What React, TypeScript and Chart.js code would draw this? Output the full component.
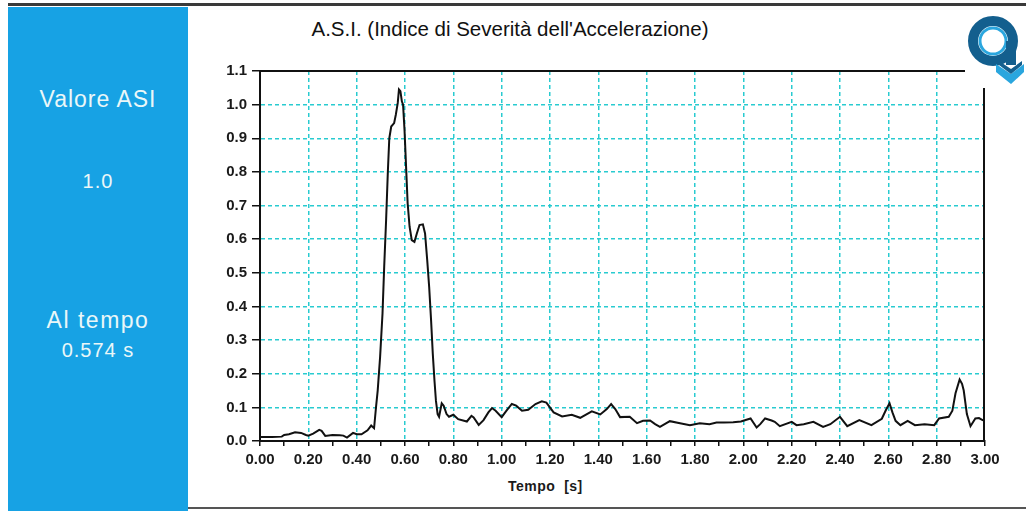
import { useEffect, useRef } from 'react';
import { Chart, registerables } from 'chart.js';

Chart.register(...registerables);

// Time axis (s)
const TIME = [
  0.0, 0.05, 0.09, 0.1, 0.12, 0.145, 0.17, 0.19, 0.2, 0.22, 0.245, 0.255, 0.27, 0.3, 0.33, 0.345, 0.36, 0.385, 0.4, 0.42,
  0.445, 0.46, 0.472, 0.48, 0.487, 0.497, 0.507, 0.514, 0.522, 0.529, 0.535, 0.543, 0.555, 0.562, 0.57, 0.575, 0.581,
  0.587, 0.592, 0.598, 0.605, 0.611, 0.619, 0.628, 0.639, 0.649, 0.66, 0.674, 0.683, 0.692, 0.7, 0.708, 0.715, 0.722,
  0.728, 0.735, 0.741, 0.752, 0.76, 0.772, 0.782, 0.8, 0.82, 0.856, 0.875, 0.884, 0.905, 0.925, 0.945, 0.96, 0.975, 1.0,
  1.02, 1.042, 1.06, 1.084, 1.11, 1.14, 1.166, 1.185, 1.215, 1.25, 1.29, 1.325, 1.373, 1.408, 1.435, 1.453, 1.47, 1.49,
  1.53, 1.56, 1.585, 1.614, 1.635, 1.655, 1.696, 1.738, 1.779, 1.82, 1.86, 1.889, 1.92, 1.958, 1.99, 2.03, 2.055, 2.07,
  2.09, 2.117, 2.13, 2.151, 2.2, 2.22, 2.25, 2.29, 2.33, 2.36, 2.4, 2.43, 2.48, 2.53, 2.573, 2.59, 2.605, 2.617, 2.63,
  2.65, 2.68, 2.71, 2.75, 2.79, 2.81, 2.85, 2.865, 2.878, 2.895, 2.905, 2.912, 2.925, 2.94, 2.96, 2.975, 2.99, 3.0,
];

// A.S.I. value
const ASI = [
  0.012, 0.012, 0.013, 0.018, 0.02, 0.026, 0.024, 0.018, 0.016, 0.022, 0.033, 0.03, 0.015, 0.018, 0.017, 0.016, 0.01,
  0.024, 0.02, 0.02, 0.032, 0.046, 0.038, 0.1, 0.15, 0.25, 0.38, 0.52, 0.66, 0.8, 0.9, 0.935, 0.945, 0.97, 1.005, 1.045,
  1.04, 1.01, 1.0, 0.925, 0.806, 0.706, 0.637, 0.597, 0.592, 0.617, 0.642, 0.644, 0.617, 0.537, 0.458, 0.358, 0.259,
  0.179, 0.12, 0.08, 0.072, 0.112, 0.105, 0.08, 0.072, 0.078, 0.065, 0.058, 0.075, 0.07, 0.048, 0.062, 0.085, 0.098,
  0.09, 0.071, 0.09, 0.11, 0.105, 0.09, 0.093, 0.11, 0.118, 0.114, 0.085, 0.073, 0.078, 0.069, 0.088, 0.079, 0.095, 0.11,
  0.095, 0.071, 0.072, 0.053, 0.06, 0.061, 0.05, 0.042, 0.059, 0.053, 0.047, 0.053, 0.05, 0.055, 0.055, 0.056, 0.058,
  0.067, 0.04, 0.05, 0.067, 0.061, 0.057, 0.044, 0.057, 0.047, 0.05, 0.057, 0.042, 0.05, 0.072, 0.044, 0.062, 0.047,
  0.066, 0.092, 0.112, 0.085, 0.06, 0.047, 0.06, 0.047, 0.05, 0.047, 0.067, 0.072, 0.09, 0.142, 0.183, 0.17, 0.15, 0.08,
  0.044, 0.067, 0.068, 0.062, 0.06,
];

const X_MIN = 0;
const X_MAX = 3;
const X_STEP = 0.1;
const Y_MIN = 0;
const Y_MAX = 1.1;
const Y_STEP = 0.1;

const TITLE = "A.S.I. (Indice di Severità dell'Accelerazione)";
const X_TITLE = 'Tempo  [s]';
const PANEL_LABEL = 'Valore ASI';
const PANEL_VALUE = '1.0';
const PANEL_TIME_LABEL = 'Al tempo';
const PANEL_TIME_VALUE = '0.574 s';

const FONT = "'Liberation Sans', Arial, Helvetica, sans-serif";
const GRID = 'rgba(30,200,205,0.95)';

const framePlugin = {
  id: 'frame',
  afterDraw(chart: any) {
    const { ctx, chartArea: a, scales } = chart;
    const yTop = scales.y.getPixelForValue(Y_MAX);
    ctx.save();
    ctx.strokeStyle = '#111';
    ctx.lineWidth = 2;
    ctx.beginPath();
    ctx.moveTo(a.left, yTop);
    ctx.lineTo(a.right - 20, yTop);
    ctx.stroke();
    ctx.beginPath();
    ctx.moveTo(a.right - 1, a.top + 17);
    ctx.lineTo(a.right - 1, a.bottom);
    ctx.stroke();
    ctx.restore();
  },
};

function Logo() {
  return (
    <svg width="60" height="72" viewBox="0 0 60 72" style={{ position: 'absolute', left: 966, top: 14 }}>
      <circle cx="27" cy="27" r="20" fill="none" stroke="#135f8e" strokeWidth="10" />
      <circle cx="27" cy="27" r="13" fill="none" stroke="#2aa6de" strokeWidth="3" />
      <rect x="40" y="27" width="10" height="24" fill="#135f8e" />
      <polygon points="30,50 45,60 58,50 58,58 45,70 30,58" fill="#2aa6de" />
      <polygon points="33,47 45,55 56,47 56,51 45,60 33,51" fill="#135f8e" />
    </svg>
  );
}

export default function App() {
  const canvasRef = useRef<HTMLCanvasElement | null>(null);

  useEffect(() => {
    if (!canvasRef.current) return;
    const points = TIME.map((t, i) => ({ x: t, y: ASI[i] }));
    const chart = new Chart(canvasRef.current, {
      type: 'line',
      data: {
        datasets: [
          {
            label: 'ASI',
            data: points,
            borderColor: '#111',
            borderWidth: 2,
            pointRadius: 0,
            tension: 0,
            fill: false,
          },
        ],
      },
      plugins: [framePlugin],
      options: {
        animation: false,
        responsive: false,
        devicePixelRatio: 1,
        layout: { padding: { left: 0, top: 71, right: 41, bottom: 0 } },
        plugins: { legend: { display: false }, tooltip: { enabled: false }, title: { display: false } },
        scales: {
          x: {
            type: 'linear',
            min: X_MIN,
            max: X_MAX,
            afterFit: (s: any) => {
              s.height = 70;
            },
            ticks: {
              stepSize: X_STEP,
              autoSkip: false,
              maxRotation: 0,
              padding: 5,
              color: '#1a1a1a',
              font: { family: FONT, size: 15, weight: 'bold' },
              callback: (v: any) => (Math.round(Number(v) * 10) % 2 === 0 ? Number(v).toFixed(2) : ''),
            },
            grid: {
              color: (c: any) => {
                const k = Math.round(c.tick?.value * 10);
                return k % 2 === 0 && k > 0 && k < 30 ? GRID : 'rgba(0,0,0,0)';
              },
              lineWidth: 1.5,
              tickLength: 5,
              tickColor: '#111',
              tickWidth: 1.5,
            },
            border: { display: true, color: '#111', width: 2, dash: [4, 3] },
          },
          y: {
            type: 'linear',
            min: Y_MIN,
            max: Y_MAX,
            afterFit: (s: any) => {
              s.width = 260;
            },
            ticks: {
              stepSize: Y_STEP,
              padding: 5,
              color: '#1a1a1a',
              font: { family: FONT, size: 15, weight: 'bold' },
              callback: (v: any) => Number(v).toFixed(1),
            },
            grid: {
              color: (c: any) => {
                const k = Math.round(c.tick?.value * 10);
                return k > 0 && k < 11 ? GRID : 'rgba(0,0,0,0)';
              },
              lineWidth: 1.5,
              tickLength: 8,
              tickColor: '#111',
              tickWidth: 1.5,
            },
            border: { display: true, color: '#111', width: 2, dash: [4, 3] },
          },
        },
      },
    } as any);
    return () => chart.destroy();
  }, []);

  const panelText = (top: number, size: number, text: string, ls: number) => (
    <div
      style={{
        position: 'absolute',
        left: 8,
        width: 180,
        top,
        textAlign: 'center',
        fontFamily: FONT,
        fontSize: size,
        lineHeight: `${size}px`,
        letterSpacing: ls,
        color: '#eaf7f8',
        whiteSpace: 'pre',
      }}
    >
      {text}
    </div>
  );

  return (
    <div
      style={{
        position: 'fixed',
        left: 0,
        top: 0,
        width: 1026,
        height: 511,
        background: '#ffffff',
        overflow: 'hidden',
      }}
    >
      <div style={{ position: 'absolute', left: 8, top: 3, width: 1018, height: 3, background: '#3a3a3a' }} />
      <div style={{ position: 'absolute', left: 8, top: 7, width: 180, height: 504, background: '#17a2e4' }} />
      {panelText(88, 23, PANEL_LABEL, 1)}
      {panelText(171, 20, PANEL_VALUE, 1)}
      {panelText(309, 23, PANEL_TIME_LABEL, 1.5)}
      {panelText(340, 20, PANEL_TIME_VALUE, 1)}
      <div style={{ position: 'absolute', left: 188, top: 507, width: 838, height: 2, background: '#555' }} />
      <div
        style={{
          position: 'absolute',
          left: 210,
          width: 600,
          top: 19,
          textAlign: 'center',
          fontFamily: FONT,
          fontSize: 20.5,
          lineHeight: '20.5px',
          color: '#111',
          whiteSpace: 'pre',
        }}
      >
        {TITLE}
      </div>
      <div
        style={{
          position: 'absolute',
          left: 508,
          top: 479,
          fontFamily: FONT,
          fontSize: 14,
          fontWeight: 'bold',
          lineHeight: '14px',
          letterSpacing: 0.5,
          color: '#1a1a1a',
          whiteSpace: 'pre',
        }}
      >
        {X_TITLE}
      </div>
      <Logo />
      <canvas
        ref={canvasRef}
        width={1026}
        height={511}
        style={{ position: 'absolute', left: 0, top: 0, width: 1026, height: 511 }}
      />
    </div>
  );
}
